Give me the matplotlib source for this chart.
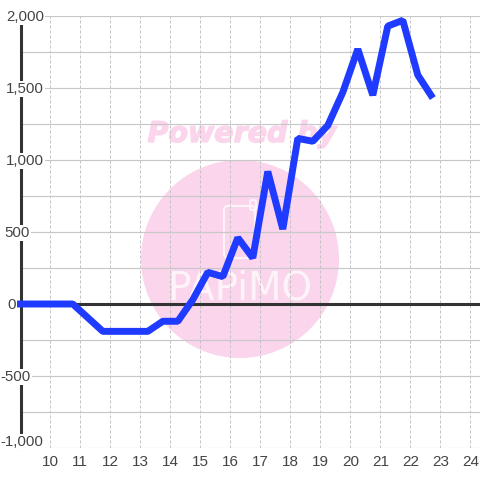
# -*- coding: utf-8 -*-
import matplotlib
matplotlib.use("Agg")
import matplotlib.pyplot as plt
from matplotlib.patches import Circle, FancyBboxPatch
import matplotlib.patheffects as pe

# half hourly values, x in hours
hours = [8.89, 10.75, 11.75, 13.25, 13.75, 14.25, 14.75, 15.25, 15.75, 16.25, 16.75,
         17.25, 17.75, 18.25, 18.75, 19.25, 19.75, 20.25, 20.75, 21.25, 21.75,
         22.25, 22.75]
values = [0, 0, -190, -190, -120, -120, 30, 220, 190, 460, 320,
          920, 520, 1150, 1130, 1240, 1470, 1770, 1450, 1930, 1970,
          1590, 1430]
xTicks = [10, 11, 12, 13, 14, 15, 16, 17, 18, 19, 20, 21, 22, 23, 24]
yTicks = [-1000, -500, 0, 500, 1000, 1500, 2000]
yMinor = [-750, -250, 250, 750, 1250, 1750]
# right end of each y label in pixels, and its shift up in points
labelRight = {-1000: 43, -500: 31, 0: 16, 500: 30, 1000: 44, 1500: 44, 2000: 44}
labelShift = {-1000: 4, -500: -0.5, 0: -0.5, 500: -0.5, 1000: -0.5, 1500: -0.5, 2000: -0.5}

W = 480.0
plt.rcParams["font.family"] = ["Liberation Sans", "DejaVu Sans"]

fig = plt.figure(figsize=(4.8, 4.8), dpi=100)

# axes covers x px 20.5..480, y px 16..448
ax = fig.add_axes([20.5 / W, (W - 448) / W, 459.5 / W, 432 / W])
ax.set_xlim(10 + (20.5 - 50.3) / 30, 10 + (480 - 50.3) / 30)
ax.set_ylim(-1000, 2000)
for s in ["top", "right", "bottom"]:
    ax.spines[s].set_visible(False)
ax.spines["left"].set_linewidth(2.2)
ax.spines["left"].set_color("#333333")
ax.set_zorder(2)
ax.patch.set_alpha(0)

ax.set_xticks(xTicks)
ax.set_yticks(yTicks)
ax.set_yticks(yMinor, minor=True)
ax.tick_params(which="both", length=0)
ax.tick_params(axis="x", labelsize=11, labelcolor="#444444", pad=5)
ax.set_yticklabels([])
ax.grid(axis="x", color="#c4c4c4", lw=0.72, ls=(0, (3, 2)))
ax.grid(axis="y", which="both", color="#c8c8c8", lw=0.85)
ax.set_axisbelow(True)

ax.axhline(0, color="#333333", lw=2.2, zorder=2)
ax.plot(hours, values, color="#1f3bff", lw=5, solid_joinstyle="bevel",
        solid_capstyle="butt", zorder=3, clip_on=False)

# y labels sit on a white box over the axis line
for v in yTicks:
    ax.annotate("{:,}".format(v), (hours[0], v), xytext=(labelRight[v], labelShift[v]),
                xycoords=("data", "data"), textcoords=("figure pixels", "offset points"),
                ha="right", va="center", fontsize=10.8, color="#444444", zorder=4,
                bbox=dict(facecolor="white", edgecolor="none", pad=0.8), annotation_clip=False)

# watermark drawn behind in a full figure axes
bg = fig.add_axes([0, 0, 1, 1], zorder=1)
bg.set_xlim(0, W)
bg.set_ylim(W, 0)
bg.axis("off")
pink = "#fbd5ec"
pale = "#fdf3f9"
bg.add_patch(Circle((240, 259), 99, fc=pink, ec="none"))
bg.text(242, 134, "Powered by", color=pink, fontsize=20.5, fontweight="bold", style="italic",
        ha="center", va="center", family=["DejaVu Sans"],
        path_effects=[pe.withStroke(linewidth=1, foreground=pink)])
bg.add_patch(FancyBboxPatch((224, 206), 31, 52, boxstyle="round,pad=0,rounding_size=4",
                            fc="none", ec=pale, lw=1.5))
bg.add_patch(FancyBboxPatch((250, 200), 6, 10, boxstyle="round,pad=0,rounding_size=2",
                            fc="none", ec=pale, lw=1.5))
bg.text(240, 289, "PAPiMO", color=pale, fontsize=28, ha="center", va="center",
        family=["DejaVu Sans"])

fig.savefig("out.png", dpi=100)
